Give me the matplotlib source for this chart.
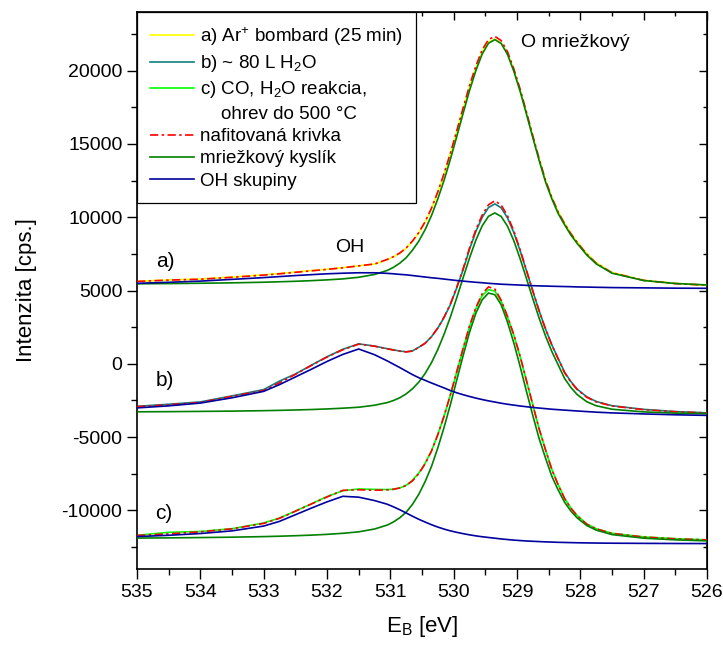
import numpy as np
import matplotlib
matplotlib.use('Agg')
import matplotlib.pyplot as plt
from matplotlib.ticker import MultipleLocator

plt.rcParams['font.family'] = ['Liberation Sans', 'DejaVu Sans']
plt.rcParams['mathtext.fontset'] = 'custom'
plt.rcParams['mathtext.rm'] = 'Liberation Sans'
plt.rcParams['mathtext.it'] = 'Liberation Sans:italic'
plt.rcParams['mathtext.bf'] = 'Liberation Sans:bold'
plt.rcParams['mathtext.default'] = 'regular'
plt.rcParams['axes.unicode_minus'] = False

# Binding energy grid [eV]
energy = [535.0, 534.5, 534.0, 533.5, 533.0, 532.75, 532.5, 532.25, 532.0, 531.75,
          531.5, 531.25, 531.05, 530.95, 530.85, 530.75, 530.65, 530.55, 530.45, 530.35,
          530.25, 530.15, 530.05, 529.95, 529.85, 529.75, 529.65, 529.55, 529.45, 529.35,
          529.25, 529.15, 529.05, 528.95, 528.85, 528.75, 528.65, 528.55, 528.45, 528.35,
          528.25, 528.15, 528.05, 527.9, 527.75, 527.5, 527.0, 526.5, 526.0]

# a) Ar+ bombard (25 min)
a_meas = [5630, 5720, 5780, 5920, 6070, 6160, 6260, 6360, 6450, 6560,
          6680, 6800, 7100, 7290, 7540, 7880, 8350, 8930, 9670, 10590,
          11700, 12960, 14350, 15860, 17400, 18900, 20200, 21300, 21950, 22150,
          21880, 21170, 20030, 18660, 17100, 15510, 13960, 12510, 11360, 10370,
          9610, 8910, 8320, 7530, 6900, 6230, 5700, 5480, 5360]
a_fit = [5620, 5710, 5770, 5900, 6050, 6140, 6240, 6340, 6440, 6550,
         6680, 6810, 7120, 7310, 7560, 7900, 8380, 8960, 9700, 10620,
         11740, 13000, 14400, 15920, 17470, 18990, 20310, 21420, 22120, 22340,
         22050, 21290, 20120, 18730, 17160, 15550, 13980, 12520, 11350, 10340,
         9570, 8870, 8280, 7490, 6860, 6210, 5690, 5470, 5360]
a_lattice = [5456, 5474, 5495, 5523, 5565, 5596, 5629, 5672, 5725, 5793,
             5902, 6094, 6367, 6583, 6868, 7236, 7755, 8373, 9160, 10115,
             11255, 12545, 13986, 15527, 17101, 18642, 19998, 21135, 21869, 22115,
             21855, 21106, 19952, 18578, 17019, 15426, 13866, 12409, 11250, 10250,
             9490, 8790, 8210, 7430, 6820, 6180, 5680, 5480, 5380]
a_oh = [5490, 5560, 5640, 5760, 5880, 5950, 6020, 6080, 6140, 6180,
        6210, 6210, 6170, 6140, 6100, 6070, 6020, 5970, 5920, 5870,
        5830, 5780, 5730, 5680, 5640, 5600, 5560, 5530, 5490, 5460,
        5430, 5410, 5390, 5370, 5350, 5330, 5315, 5305, 5290, 5280,
        5270, 5260, 5245, 5235, 5220, 5200, 5180, 5160, 5150]

# b) ~80 L H2O
b_meas = [-2900, -2760, -2600, -2190, -1760, -1180, -700, -100, 480, 990,
          1360, 1210, 1030, 950, 870, 820, 880, 1130, 1410, 1850,
          2440, 3170, 4060, 5200, 6430, 7810, 9030, 9990, 10660, 10910,
          10640, 9950, 8950, 7700, 6330, 4950, 3600, 2380, 1290, 360,
          -560, -1210, -1730, -2250, -2570, -2860, -3110, -3260, -3345]
b_fit = [-2925, -2800, -2640, -2220, -1820, -1300, -720, -120, 460, 960,
         1340, 1200, 1020, 940, 860, 810, 870, 1120, 1400, 1850,
         2450, 3200, 4100, 5250, 6500, 7900, 9150, 10150, 10850, 11120,
         10830, 10100, 9050, 7770, 6370, 4960, 3600, 2370, 1270, 330,
         -600, -1250, -1760, -2280, -2600, -2880, -3130, -3270, -3355]
b_lattice = [-3276, -3265, -3248, -3228, -3198, -3177, -3151, -3121, -3081, -3029,
             -2964, -2827, -2647, -2506, -2314, -2053, -1704, -1245, -655, 81,
             983, 2033, 3220, 4530, 5881, 7219, 8433, 9413, 10065, 10292,
             10052, 9385, 8388, 7156, 5800, 4431, 3103, 1900, 834, -78,
             -991, -1614, -2099, -2585, -2863, -3100, -3282, -3366, -3409]
b_oh = [-3010, -2870, -2680, -2320, -1880, -1420, -900, -380, 160, 640,
        1010, 620, 200, -30, -260, -500, -740, -950, -1130, -1310,
        -1480, -1650, -1830, -1980, -2110, -2230, -2340, -2440, -2530, -2610,
        -2690, -2760, -2820, -2880, -2930, -2980, -3020, -3060, -3100, -3130,
        -3160, -3190, -3220, -3260, -3300, -3350, -3420, -3480, -3520]

# c) CO, H2O reaction, heated to 500 C
c_meas = [-11700, -11500, -11440, -11250, -10860, -10520, -10050, -9560, -9060, -8660,
          -8540, -8570, -8580, -8560, -8470, -8290, -7940, -7450, -6780, -5930,
          -4820, -3540, -2100, -540, 1020, 2520, 3760, 4650, 5060, 4960,
          4260, 3180, 1950, 480, -1170, -2820, -4450, -5860, -7200, -8240,
          -9160, -9830, -10350, -10920, -11250, -11560, -11810, -11930, -12010]
c_fit = [-11710, -11607, -11465, -11259, -10890, -10543, -10059, -9570, -9086, -8635,
         -8594, -8628, -8602, -8560, -8469, -8306, -7984, -7493, -6812, -5951,
         -4831, -3542, -2085, -506, 1073, 2584, 3828, 4780, 5250, 5100,
         4340, 3230, 1980, 500, -1160, -2815, -4450, -5870, -7220, -8260,
         -9185, -9850, -10370, -10938, -11261, -11571, -11822, -11942, -12014]
c_lattice = [-11890, -11877, -11855, -11829, -11790, -11763, -11729, -11690, -11636, -11565,
             -11464, -11272, -11005, -10788, -10501, -10123, -9587, -8895, -8031, -6999,
             -5728, -4312, -2748, -1083, 571, 2148, 3447, 4365, 4828, 4712,
             4023, 2838, 1415, -199, -1897, -3542, -5117, -6433, -7679, -8614,
             -9436, -10047, -10516, -11029, -11348, -11653, -11898, -12012, -12082]
c_oh = [-11790, -11700, -11580, -11400, -11070, -10750, -10300, -9850, -9420, -9040,
        -9100, -9330, -9580, -9760, -9960, -10180, -10400, -10610, -10800, -10980,
        -11140, -11280, -11400, -11500, -11590, -11670, -11740, -11800, -11850, -11900,
        -11950, -11990, -12030, -12060, -12090, -12110, -12130, -12150, -12165, -12180,
        -12190, -12200, -12210, -12220, -12230, -12240, -12252, -12260, -12265]

labels = ['a) Ar$^{+}$ bombard (25 min)', 'b) ~ 80 L H$_{2}$O',
          'c) CO, H$_{2}$O reakcia,', '    ohrev do 500 °C',
          'nafitovaná krivka', 'mriežkový kyslík', 'OH skupiny']

c_yellow = '#ffff00'
c_teal = '#0f7f7f'
c_lime = '#00ff00'
c_red = '#ff0000'
c_green = '#008000'
c_blue = '#0000a0'
dashdot = (0, (5, 2, 1.5, 2))
lw = 1.2

fig = plt.figure(figsize=(7.23, 6.46), dpi=100)
ax = fig.add_axes([0.1895, 0.1192, 0.7884, 0.8622])

x = np.array(energy)
style = dict(lw=lw, solid_joinstyle='round', dash_joinstyle='round')
for meas, col in [(a_meas, c_yellow), (b_meas, c_teal), (c_meas, c_lime)]:
    ax.plot(x, meas, color=col, zorder=2, **style)
for fit in [a_fit, b_fit, c_fit]:
    ax.plot(x, fit, color=c_red, linestyle=dashdot, zorder=3, **style)
for lat in [a_lattice, b_lattice, c_lattice]:
    ax.plot(x, lat, color=c_green, zorder=4, **style)
for oh in [a_oh, b_oh, c_oh]:
    ax.plot(x, oh, color=c_blue, zorder=5, **style)

# legend handles (second line of entry c has no line)
handles = [plt.Line2D([], [], color=c_yellow, lw=lw),
           plt.Line2D([], [], color=c_teal, lw=lw),
           plt.Line2D([], [], color=c_lime, lw=lw),
           plt.Line2D([], [], color='none', lw=lw),
           plt.Line2D([], [], color=c_red, lw=lw, linestyle=dashdot),
           plt.Line2D([], [], color=c_green, lw=lw),
           plt.Line2D([], [], color=c_blue, lw=lw)]
leg = ax.legend(handles, labels, loc='upper left', bbox_to_anchor=(0, 1),
                borderaxespad=0, fontsize=13.5, frameon=True, fancybox=False,
                framealpha=1, edgecolor='black', handlelength=2.35,
                handletextpad=0.3, labelspacing=0.28, borderpad=0.7)
leg.get_frame().set_linewidth(0.9)
leg.set_zorder(10)

ax.text(528.08, 21900, 'O mriežkový', fontsize=14, ha='center', va='center')
ax.text(531.64, 7960, 'OH', fontsize=14, ha='center', va='center')
ax.text(534.55, 7000, 'a)', fontsize=15, ha='center', va='center')
ax.text(534.56, -1160, 'b)', fontsize=15, ha='center', va='center')
ax.text(534.57, -10200, 'c)', fontsize=15, ha='center', va='center')

ax.set_xlim(535, 526)
ax.set_ylim(-14000, 24000)
ax.xaxis.set_major_locator(MultipleLocator(1))
ax.xaxis.set_minor_locator(MultipleLocator(0.5))
ax.yaxis.set_major_locator(MultipleLocator(5000))
ax.yaxis.set_minor_locator(MultipleLocator(2500))
ax.tick_params(which='major', direction='out', length=7, width=1, labelsize=14)
ax.tick_params(which='minor', direction='out', length=4, width=1)
for s in ax.spines.values():
    s.set_linewidth(1.2)

# mirrored ticks on top and right, pointing inward
top = ax.secondary_xaxis('top')
top.xaxis.set_major_locator(MultipleLocator(1))
top.xaxis.set_minor_locator(MultipleLocator(0.5))
top.tick_params(which='major', direction='in', length=6, width=1, labeltop=False)
top.tick_params(which='minor', direction='in', length=3, width=1)
right = ax.secondary_yaxis('right')
right.yaxis.set_major_locator(MultipleLocator(5000))
right.yaxis.set_minor_locator(MultipleLocator(2500))
right.tick_params(which='major', direction='in', length=6, width=1, labelright=False)
right.tick_params(which='minor', direction='in', length=3, width=1)

ax.set_xlabel('E$_{B}$ [eV]', fontsize=16, labelpad=10)
ax.set_ylabel('Intenzita [cps.]', fontsize=16, labelpad=18)

fig.savefig('out.png', dpi=100)
